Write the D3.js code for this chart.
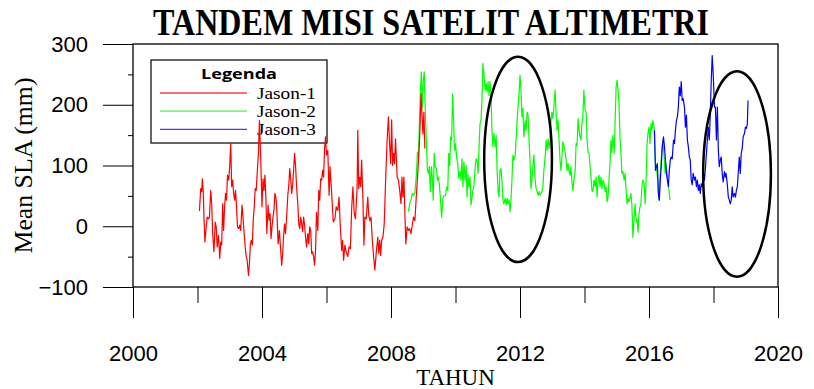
<!DOCTYPE html>
<html>
<head>
<meta charset="utf-8">
<script src="https://cdn.jsdelivr.net/npm/d3@7"></script>
<style>
  html, body { margin: 0; padding: 0; background: #fff; }
  svg { display: block; }
</style>
</head>
<body>
<svg id="chart" width="814" height="389"></svg>
<script>
// tick values
var xMajor = [2000, 2004, 2008, 2012, 2016, 2020];
var xMinor = [2002, 2006, 2010, 2014, 2018];
var yMajor = [-100, 0, 100, 200, 300];
var yMinor = [-50, 50, 150, 250];

// [tahun, mean SLA mm]
var jason1 = [
  [2002.06,25],[2002.10,62],[2002.13,57],[2002.15,78],[2002.18,55],[2002.20,15],[2002.23,-26],[2002.26,-7],
  [2002.30,15],[2002.34,12],[2002.37,15],[2002.41,59],[2002.44,37],[2002.47,-12],[2002.51,-42],[2002.55,7],
  [2002.58,-1],[2002.61,-34],[2002.65,-15],[2002.69,-53],[2002.72,-26],[2002.75,-31],[2002.78,37],[2002.81,-7],
  [2002.84,32],[2002.87,54],[2002.90,43],[2002.93,84],[2002.97,76],[2003.00,100],[2003.03,136],[2003.06,65],
  [2003.09,76],[2003.12,54],[2003.15,43],[2003.18,59],[2003.21,32],[2003.24,-1],[2003.28,-4],[2003.31,2],
  [2003.34,-7],[2003.38,35],[2003.41,15],[2003.44,-7],[2003.48,-34],[2003.51,-50],[2003.54,-56],[2003.58,-81],
  [2003.61,-61],[2003.64,-29],[2003.67,-23],[2003.70,-31],[2003.73,12],[2003.76,32],[2003.79,62],[2003.82,59],
  [2003.85,87],[2003.89,120],[2003.92,174],[2003.96,111],[2004.00,32],[2004.03,78],[2004.06,59],[2004.09,84],
  [2004.12,48],[2004.15,-12],[2004.19,35],[2004.22,10],[2004.25,21],[2004.28,-20],[2004.31,-1],[2004.34,15],
  [2004.37,26],[2004.40,54],[2004.43,48],[2004.46,26],[2004.50,-29],[2004.54,-7],[2004.58,-40],[2004.61,-64],
  [2004.64,-45],[2004.67,-15],[2004.70,4],[2004.73,-12],[2004.76,12],[2004.80,51],[2004.83,67],[2004.86,95],
  [2004.89,78],[2004.92,54],[2004.95,67],[2004.98,92],[2005.01,120],[2005.04,100],[2005.07,67],[2005.11,37],
  [2005.14,4],[2005.17,-4],[2005.20,15],[2005.23,4],[2005.26,-9],[2005.29,15],[2005.32,2],[2005.35,-18],
  [2005.38,-34],[2005.42,-12],[2005.45,-29],[2005.48,-1],[2005.51,-7],[2005.54,-45],[2005.57,-42],[2005.60,-50],
  [2005.63,-64],[2005.66,-40],[2005.69,23],[2005.73,-7],[2005.76,59],[2005.79,43],[2005.82,78],[2005.85,76],
  [2005.88,92],[2005.91,81],[2005.94,128],[2005.97,147],
  [2006.00,117],[2006.04,125],[2006.08,51],[2006.11,98],[2006.16,54],[2006.21,7],[2006.26,12],[2006.30,32],
  [2006.35,26],[2006.39,48],[2006.42,9],[2006.47,-40],[2006.50,-23],[2006.53,-56],[2006.57,-31],[2006.61,-42],
  [2006.66,-50],[2006.70,-34],[2006.74,-37],[2006.78,29],[2006.82,65],[2006.86,21],[2006.90,12],[2006.95,65],
  [2006.97,158],[2007.00,62],[2007.03,81],[2007.06,65],[2007.09,109],[2007.13,43],[2007.16,-31],[2007.19,15],
  [2007.23,12],[2007.28,48],[2007.31,18],[2007.35,9],[2007.38,15],[2007.42,-23],[2007.46,-50],[2007.50,-72],
  [2007.54,-45],[2007.59,-18],[2007.62,-45],[2007.65,-23],[2007.68,-48],[2007.71,-23],[2007.75,-18],[2007.79,4],
  [2007.83,70],[2007.88,142],[2007.92,180],[2007.95,142],[2007.99,103],[2008.02,175],[2008.05,100],[2008.08,120],
  [2008.11,103],[2008.14,144],[2008.19,81],[2008.23,76],[2008.27,59],[2008.31,37],[2008.34,81],[2008.37,48],
  [2008.40,81],[2008.43,21],[2008.46,-29],[2008.50,-1],[2008.54,-7],[2008.58,-4],[2008.62,-12],[2008.66,2],
  [2008.70,15],[2008.74,9],[2008.79,54],[2008.83,87],[2008.87,125],[2008.90,163],[2008.93,218],[2008.96,185],
  [2008.99,152],[2009.02,188],[2009.05,128]
];

var jason2 = [
  [2008.54,24],[2008.58,37],[2008.62,43],[2008.66,54],[2008.70,51],[2008.74,54],[2008.79,87],[2008.82,122],
  [2008.85,114],[2008.88,169],[2008.91,218],[2008.94,254],[2008.97,196],[2009.00,240],[2009.03,254],[2009.06,196],
  [2009.10,136],[2009.13,92],[2009.16,87],[2009.19,98],[2009.22,57],[2009.25,98],[2009.28,81],[2009.31,43],
  [2009.34,120],[2009.37,98],[2009.41,95],[2009.44,76],[2009.47,81],[2009.50,68],[2009.53,48],[2009.57,15],
  [2009.61,46],[2009.65,51],[2009.69,51],[2009.73,65],[2009.76,59],[2009.79,120],[2009.82,100],[2009.85,147],
  [2009.88,142],[2009.91,218],[2009.94,175],[2009.97,125],[2010.00,136],[2010.04,111],[2010.07,103],[2010.10,79],
  [2010.14,90],[2010.17,76],[2010.20,111],[2010.23,65],[2010.26,106],[2010.30,76],[2010.33,100],[2010.36,48],
  [2010.39,84],[2010.42,65],[2010.45,81],[2010.48,35],[2010.51,46],[2010.54,59],[2010.57,65],[2010.61,98],
  [2010.64,111],[2010.67,109],[2010.70,87],[2010.73,131],[2010.76,169],[2010.79,174],[2010.82,207],[2010.85,268],
  [2010.88,251],[2010.92,224],[2010.95,235],[2010.98,221],[2011.01,238],[2011.04,215],[2011.07,238],[2011.10,218],
  [2011.13,158],[2011.16,131],[2011.19,153],[2011.23,131],[2011.26,150],[2011.29,92],[2011.32,59],[2011.35,48],
  [2011.38,92],[2011.41,95],[2011.44,76],[2011.47,43],[2011.50,37],[2011.54,46],[2011.57,35],[2011.60,46],
  [2011.63,37],[2011.66,43],[2011.69,24],[2011.72,43],[2011.75,76],[2011.78,117],[2011.81,109],[2011.85,117],
  [2011.88,144],[2011.91,174],[2011.94,196],[2011.97,218],[2012.00,249],[2012.03,224],[2012.06,180],[2012.09,194],
  [2012.12,147],[2012.16,174],[2012.19,158],[2012.22,188],[2012.25,183],[2012.28,142],[2012.31,109],[2012.34,62],
  [2012.37,76],[2012.40,100],[2012.43,117],[2012.47,76],[2012.50,62],[2012.53,57],[2012.56,51],[2012.59,57],
  [2012.62,51],[2012.65,54],[2012.68,57],[2012.71,65],[2012.74,92],[2012.78,114],[2012.81,142],[2012.84,125],
  [2012.87,144],[2012.90,128],[2012.93,142],[2012.96,174],[2012.99,188],[2013.02,177],[2013.05,196],[2013.09,224],
  [2013.12,185],[2013.15,158],[2013.18,174],[2013.21,142],[2013.24,109],[2013.27,92],[2013.30,114],[2013.33,139],
  [2013.36,133],[2013.40,122],[2013.43,109],[2013.46,92],[2013.49,103],[2013.52,90],[2013.55,84],[2013.58,98],
  [2013.61,73],[2013.64,59],[2013.67,76],[2013.71,90],[2013.74,136],[2013.77,133],[2013.80,177],[2013.83,158],
  [2013.86,147],[2013.89,142],[2013.92,169],[2013.95,183],[2013.98,224],[2014.02,191],[2014.05,188],[2014.08,142],
  [2014.11,122],[2014.14,120],[2014.17,100],[2014.20,81],[2014.23,59],[2014.26,57],[2014.30,76],
  [2014.33,65],[2014.36,81],[2014.39,48],[2014.42,76],[2014.45,84],[2014.48,65],[2014.51,81],[2014.54,62],
  [2014.57,76],[2014.61,70],[2014.64,57],[2014.67,65],[2014.70,40],[2014.73,48],[2014.76,76],[2014.79,103],
  [2014.82,142],[2014.85,122],[2014.88,150],[2014.92,120],[2014.95,174],[2014.98,229],[2015.01,240],[2015.04,224],
  [2015.07,202],[2015.10,147],[2015.13,120],[2015.16,87],[2015.19,90],[2015.23,76],[2015.26,87],[2015.29,59],
  [2015.32,37],[2015.35,46],[2015.38,40],[2015.41,46],[2015.44,54],[2015.47,35],[2015.50,-18],[2015.54,15],
  [2015.57,37],[2015.60,7],[2015.63,12],[2015.66,-10],[2015.69,21],[2015.72,32],[2015.75,37],[2015.78,65],
  [2015.81,76],[2015.85,70],[2015.88,37],[2015.91,76],[2015.94,136],[2015.97,153],[2016.00,163],[2016.03,136],
  [2016.06,169],[2016.09,158],[2016.12,174],[2016.16,163],[2016.19,111],[2016.22,98],[2016.25,87],[2016.28,70],
  [2016.31,43],[2016.34,81],[2016.37,103],[2016.40,125],[2016.43,142],[2016.47,114],[2016.50,87],[2016.53,103],
  [2016.56,87],[2016.59,76],[2016.62,59],[2016.65,43]
];

var jason3 = [
  [2016.17,158],[2016.20,92],[2016.23,98],[2016.26,103],[2016.29,54],[2016.32,43],[2016.35,76],[2016.38,98],
  [2016.41,131],[2016.45,147],[2016.48,131],[2016.51,109],[2016.54,87],[2016.57,76],[2016.60,65],[2016.63,92],
  [2016.66,109],[2016.69,114],[2016.72,111],[2016.76,142],[2016.79,136],[2016.82,158],[2016.85,174],[2016.88,180],
  [2016.91,196],[2016.94,229],[2016.97,215],[2017.00,238],[2017.03,207],[2017.06,210],[2017.10,196],[2017.13,163],
  [2017.16,183],[2017.19,142],[2017.22,131],[2017.25,114],[2017.28,109],[2017.31,76],[2017.34,68],[2017.37,87],
  [2017.41,76],[2017.44,81],[2017.47,65],[2017.50,76],[2017.53,59],[2017.56,68],[2017.59,54],[2017.62,70],
  [2017.65,65],[2017.69,87],[2017.72,76],[2017.75,95],[2017.78,120],[2017.81,142],[2017.84,163],[2017.87,142],
  [2017.90,185],[2017.93,240],[2017.96,281],[2017.99,251],[2018.03,196],[2018.06,196],[2018.09,142],[2018.12,196],
  [2018.15,125],[2018.18,98],[2018.21,109],[2018.24,114],[2018.27,87],[2018.30,73],[2018.34,90],[2018.37,81],
  [2018.39,87],[2018.43,68],[2018.46,48],[2018.49,43],[2018.52,37],[2018.55,43],[2018.58,65],[2018.61,48],
  [2018.65,54],[2018.68,48],[2018.71,59],[2018.74,65],[2018.77,90],[2018.80,114],[2018.83,87],[2018.86,120],
  [2018.89,128],[2018.92,147],[2018.96,153],[2018.99,163],[2019.02,161],[2019.05,169],[2019.07,207]
];

// highlighted periods: [tahun pusat, SLA pusat, setengah lebar (tahun), setengah tinggi (mm)]
var highlights = [
  [2011.94, 110, 1.05, 169],
  [2018.73, 86, 1.05, 169]
];

var legendNames = ["Jason-1", "Jason-2", "Jason-3"];
var colors = ["#ff0000", "#00ff00", "#0000ff"];

var svg = d3.select("#chart");

var x = d3.scaleLinear().domain([2000, 2020]).range([133, 778]);
var y = d3.scaleLinear().domain([-100, 300]).range([287, 44]);

// title
svg.append("text")
  .attr("x", 431).attr("y", 34.5)
  .attr("text-anchor", "middle")
  .attr("textLength", 556).attr("lengthAdjust", "spacingAndGlyphs")
  .style("font-family", "'Liberation Serif', 'Times New Roman', serif")
  .style("font-weight", "bold")
  .style("font-size", "37px")
  .text("TANDEM MISI SATELIT ALTIMETRI");

// axes
svg.append("g").attr("transform", "translate(133,0)")
  .call(d3.axisLeft(y).tickValues(yMajor).tickSize(30).tickPadding(15).tickFormat(d3.format("d")));
svg.append("g").attr("transform", "translate(133,0)")
  .call(d3.axisLeft(y).tickValues(yMinor).tickSize(5).tickFormat(""));
svg.append("g").attr("transform", "translate(0,287)")
  .call(d3.axisBottom(x).tickValues(xMajor).tickSize(31).tickPadding(27).tickFormat(d3.format("d")));
svg.append("g").attr("transform", "translate(0,287)")
  .call(d3.axisBottom(x).tickValues(xMinor).tickSize(16).tickFormat(""));

svg.selectAll(".domain").remove();
svg.selectAll(".tick line").attr("stroke", "#000").attr("stroke-width", 1);
svg.selectAll(".tick text")
  .attr("fill", "#000")
  .style("font-family", "'Liberation Sans', Arial, sans-serif")
  .style("font-size", "22px");

// frame
svg.append("rect")
  .attr("x", x(2000)).attr("y", y(300))
  .attr("width", x(2020) - x(2000)).attr("height", y(-100) - y(300))
  .attr("fill", "none").attr("stroke", "#000").attr("stroke-width", 1.3);

// axis titles
svg.append("text")
  .attr("transform", "translate(32," + ((y(300) + y(-100)) / 2) + ") rotate(-90)")
  .attr("text-anchor", "middle")
  .attr("textLength", 176).attr("lengthAdjust", "spacingAndGlyphs")
  .style("font-family", "'Liberation Serif', 'Times New Roman', serif")
  .style("font-size", "25px")
  .text("Mean SLA (mm)");

svg.append("text")
  .attr("x", (x(2000) + x(2020)) / 2).attr("y", 385)
  .attr("text-anchor", "middle")
  .style("font-family", "'Liberation Serif', 'Times New Roman', serif")
  .style("font-size", "23px")
  .text("TAHUN");

// legend (lines get drawn over it, as in the original)
var legend = svg.append("g");
legend.append("rect")
  .attr("x", 151).attr("y", 60).attr("width", 176).attr("height", 83)
  .attr("fill", "#fff").attr("stroke", "#000").attr("stroke-width", 1.2);
legend.append("text")
  .attr("x", 239).attr("y", 79)
  .attr("text-anchor", "middle")
  .attr("textLength", 76).attr("lengthAdjust", "spacingAndGlyphs")
  .style("font-family", "'Open Sans', 'DejaVu Sans', sans-serif")
  .style("font-weight", "bold")
  .style("font-size", "15px")
  .text("Legenda");
legendNames.forEach(function(name, i){
  var ly = 93 + i * 18.2;
  legend.append("line")
    .attr("x1", 160).attr("x2", 247).attr("y1", ly).attr("y2", ly)
    .attr("stroke", colors[i]).attr("stroke-width", 1.3).attr("opacity", 0.75);
  legend.append("text")
    .attr("x", 257).attr("y", ly + 5.5)
    .attr("textLength", 59).attr("lengthAdjust", "spacingAndGlyphs")
    .style("font-family", "'Liberation Serif', 'Times New Roman', serif")
    .style("font-size", "17px")
    .text(name);
});

// series
var line = d3.line()
  .x(function(d){ return x(d[0]); })
  .y(function(d){ return y(d[1]); });

[[jason2, colors[1]], [jason1, colors[0]], [jason3, colors[2]]].forEach(function(s){
  svg.append("path")
    .datum(s[0])
    .attr("d", line)
    .attr("fill", "none")
    .attr("stroke", s[1])
    .attr("stroke-width", 1.2)
    .attr("stroke-linejoin", "round");
});

// ellipses
svg.selectAll("ellipse.hl")
  .data(highlights)
  .enter()
  .append("ellipse")
  .attr("class", "hl")
  .attr("cx", function(d){ return x(d[0]); })
  .attr("cy", function(d){ return y(d[1]); })
  .attr("rx", function(d){ return x(d[0] + d[2]) - x(d[0]); })
  .attr("ry", function(d){ return y(d[1] - d[3]) - y(d[1]); })
  .attr("fill", "none")
  .attr("stroke", "#000")
  .attr("stroke-width", 2.5);
</script>
</body>
</html>
